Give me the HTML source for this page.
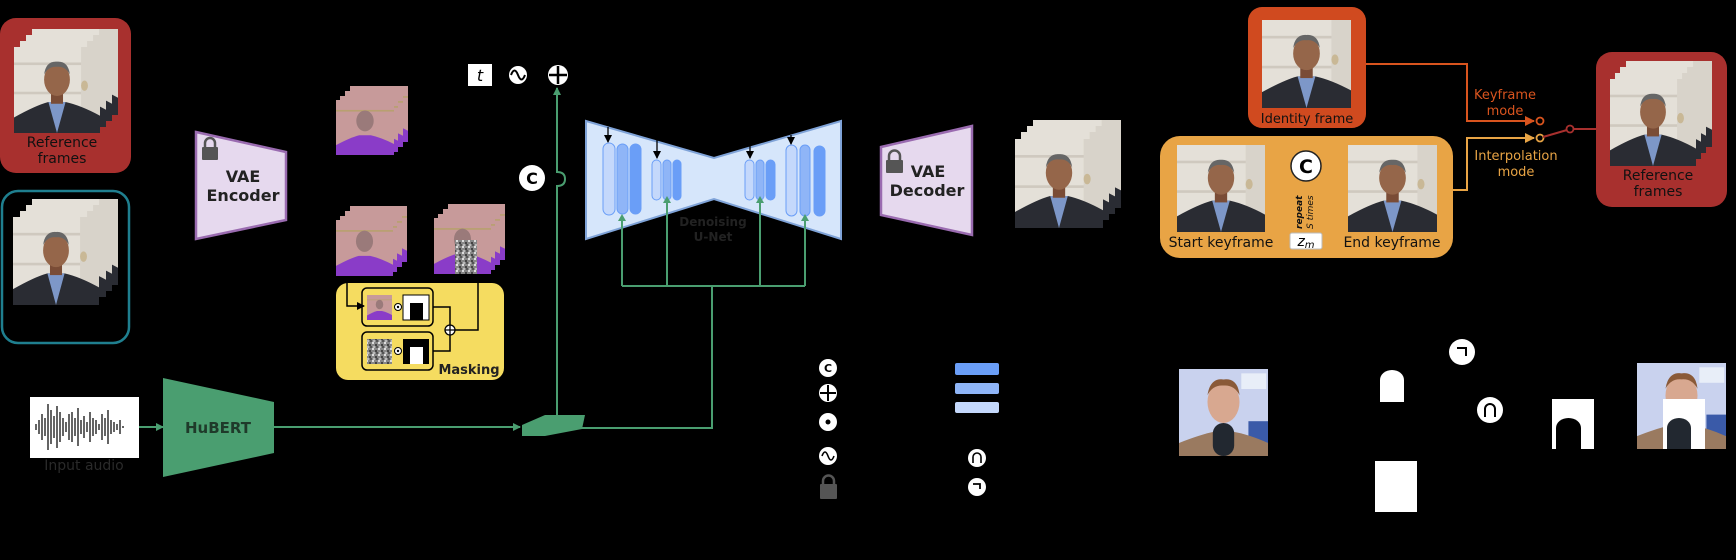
<!DOCTYPE html>
<html><head><meta charset="utf-8"><style>
html,body{margin:0;padding:0;background:#000;}
svg{display:block;}
text{font-family:"DejaVu Sans","Liberation Sans",sans-serif;}
</style></head><body>
<svg width="1736" height="560" viewBox="0 0 1736 560" xmlns="http://www.w3.org/2000/svg">
<defs>
<symbol id="ph" viewBox="0 0 100 100" preserveAspectRatio="none">
<rect width="100" height="100" fill="#e4e0d8"/>
<rect x="0" y="18" width="100" height="3" fill="#cfc9bf"/>
<rect x="0" y="52" width="100" height="3" fill="#cfc9bf"/>
<rect x="78" y="0" width="22" height="100" fill="#d8d3ca"/>
<ellipse cx="82" cy="45" rx="4" ry="6" fill="#c9b896"/>
<path d="M0 100 L0 82 Q25 68 40 64 L60 64 Q78 68 100 80 L100 100Z" fill="#2a2c33"/>
<path d="M40 64 L50 100 L60 64Z" fill="#7d97c8"/>
<rect x="43" y="52" width="14" height="14" fill="#7a4c36"/>
<ellipse cx="50" cy="38" rx="15" ry="19" fill="#95664a"/>
<path d="M35 32 Q37 16 50 17 Q63 16 65 32 Q60 22 50 23 Q40 22 35 32Z" fill="#666"/>
</symbol>
<symbol id="lt" viewBox="0 0 100 100" preserveAspectRatio="none">
<rect width="100" height="100" fill="#c79a9a"/>
<rect x="0" y="18" width="100" height="3" fill="#b8a070"/>
<path d="M0 100 L0 82 Q25 68 40 64 L60 64 Q78 68 100 80 L100 100Z" fill="#8a3cc8"/>
<ellipse cx="50" cy="38" rx="15" ry="19" fill="#9a7a7a"/>
</symbol>
<symbol id="pv" viewBox="0 0 100 100" preserveAspectRatio="none">
<rect width="100" height="100" fill="#c9d2ee"/>
<rect x="70" y="5" width="28" height="18" fill="#e8eef8"/>
<rect x="78" y="60" width="22" height="25" fill="#3a5aa8"/>
<path d="M0 100 L0 85 Q25 75 40 72 L60 72 Q78 75 100 85 L100 100Z" fill="#9a7a60"/>
<ellipse cx="50" cy="38" rx="18" ry="24" fill="#d8a890"/>
<path d="M32 30 Q35 10 50 12 Q66 10 68 30 Q62 18 50 19 Q38 18 32 30Z" fill="#8a5a38"/>
<rect x="38" y="62" width="24" height="38" rx="12" fill="#222830"/>
</symbol>
<pattern id="noise" width="6" height="6" patternUnits="userSpaceOnUse">
<rect width="6" height="6" fill="#888"/><rect width="2" height="2" fill="#ddd"/><rect x="3" y="2" width="2" height="2" fill="#444"/><rect x="1" y="4" width="2" height="2" fill="#bbb"/><rect x="4" y="4" width="2" height="2" fill="#555"/>
</pattern>
<marker id="ag" markerWidth="8" markerHeight="8" refX="7" refY="4" orient="auto" markerUnits="userSpaceOnUse"><path d="M0 0 L8 4 L0 8Z" fill="#4a9e70"/></marker>
<marker id="ab" markerWidth="8" markerHeight="8" refX="7" refY="4" orient="auto" markerUnits="userSpaceOnUse"><path d="M0 0 L8 4 L0 8Z" fill="#000"/></marker>
<marker id="ar" markerWidth="10" markerHeight="10" refX="9" refY="5" orient="auto" markerUnits="userSpaceOnUse"><path d="M0 0 L10 5 L0 10Z" fill="#d9541e"/></marker>
<marker id="ao" markerWidth="10" markerHeight="10" refX="9" refY="5" orient="auto" markerUnits="userSpaceOnUse"><path d="M0 0 L10 5 L0 10Z" fill="#e8a445"/></marker>
</defs>

<rect x="0" y="18" width="131" height="155" rx="16" fill="#a8302e"/>
<use href="#ph" x="32" y="29" width="86" height="86"/>
<use href="#ph" x="26" y="35" width="86" height="86"/>
<use href="#ph" x="20" y="41" width="86" height="86"/>
<use href="#ph" x="14" y="47" width="86" height="86"/>
<text x="62" y="147" font-size="14" text-anchor="middle" fill="#111">Reference</text>
<text x="62" y="163" font-size="14" text-anchor="middle" fill="#111">frames</text>

<rect x="2" y="191" width="127" height="152" rx="16" fill="none" stroke="#1f7f8f" stroke-width="2.5"/>
<use href="#ph" x="32" y="199" width="86" height="86"/>
<use href="#ph" x="26" y="205" width="86" height="86"/>
<use href="#ph" x="20" y="211" width="86" height="86"/>
<use href="#ph" x="13" y="217" width="86" height="88"/>

<path d="M196 132 L286 152 L286 220 L196 239Z" fill="#e6d9ee" stroke="#9a6bb0" stroke-width="2.5"/>
<rect x="202" y="147" width="16" height="13" rx="1" fill="#555"/>
<path d="M205 147 V143 a5 5 0 0 1 10 0 V147" fill="none" stroke="#555" stroke-width="2.5"/>
<text x="243" y="182" font-size="16" font-weight="bold" text-anchor="middle" fill="#222">VAE</text>
<text x="243" y="201" font-size="16" font-weight="bold" text-anchor="middle" fill="#222">Encoder</text>

<use href="#lt" x="350" y="86" width="58" height="56"/>
<use href="#lt" x="345" y="91" width="58" height="56"/>
<use href="#lt" x="340" y="96" width="58" height="56"/>
<use href="#lt" x="336" y="100" width="58" height="55"/>
<use href="#lt" x="350" y="206" width="57" height="56"/>
<use href="#lt" x="345" y="211" width="57" height="56"/>
<use href="#lt" x="340" y="216" width="57" height="56"/>
<use href="#lt" x="336" y="220" width="57" height="56"/>
<use href="#lt" x="448" y="204" width="57" height="56"/>
<use href="#lt" x="443" y="209" width="57" height="56"/>
<use href="#lt" x="438" y="214" width="57" height="56"/>
<use href="#lt" x="434" y="218" width="57" height="56"/>
<rect x="455" y="240" width="22" height="34" fill="url(#noise)"/>

<rect x="336" y="283" width="168" height="97" rx="12" fill="#f5dc60"/>
<path d="M347 276 V306 H364" fill="none" stroke="#000" stroke-width="1.5" marker-end="url(#ab)"/>
<path d="M478 276 V330 H455" fill="none" stroke="#000" stroke-width="1.5"/>
<rect x="362" y="288" width="71" height="38" rx="5" fill="none" stroke="#000" stroke-width="1.5"/>
<rect x="362" y="332" width="71" height="38" rx="5" fill="none" stroke="#000" stroke-width="1.5"/>
<use href="#lt" x="367" y="295" width="25" height="25"/>
<circle cx="398" cy="307" r="3.5" fill="#fff" stroke="#000"/><circle cx="398" cy="307" r="1.2" fill="#000"/>
<rect x="403" y="295" width="26" height="25" fill="#fff" stroke="#000"/>
<rect x="410" y="303" width="13" height="17" fill="#000"/>
<rect x="367" y="339" width="25" height="25" fill="url(#noise)"/>
<circle cx="398" cy="351" r="3.5" fill="#fff" stroke="#000"/><circle cx="398" cy="351" r="1.2" fill="#000"/>
<rect x="403" y="339" width="26" height="25" fill="#000"/>
<rect x="410" y="347" width="13" height="17" fill="#fff"/>
<path d="M433 307 H450 V325 M433 351 H450 V335" fill="none" stroke="#000" stroke-width="1.5"/>
<circle cx="450" cy="330" r="5" fill="#fff" stroke="#000" stroke-width="1.3"/>
<path d="M445 330 H455 M450 325 V335" stroke="#000" stroke-width="1.3"/>
<text x="469" y="374" font-size="13" font-weight="bold" text-anchor="middle" fill="#222">Masking</text>

<rect x="468" y="64" width="24" height="22" fill="#fff"/>
<text x="480" y="81" font-size="16" font-style="italic" font-family="Liberation Serif,serif" text-anchor="middle" fill="#000">t</text>
<circle cx="518" cy="75" r="9" fill="#fff"/>
<path d="M511 75 q3.5 -9 7 0 q3.5 9 7 0" fill="none" stroke="#000" stroke-width="2"/>
<circle cx="558" cy="75" r="10" fill="#fff"/>
<path d="M549 75 H567 M558 66 V84" stroke="#000" stroke-width="2.5"/>

<path d="M557 418 V186 q8 0 8 -7 q0 -7 -8 -7 V88" fill="none" stroke="#4a9e70" stroke-width="2" marker-end="url(#ag)"/>
<circle cx="532" cy="178" r="13" fill="#fff"/>
<text x="532" y="184" font-size="16" font-weight="bold" text-anchor="middle" fill="#000">C</text>

<rect x="30" y="397" width="109" height="61" fill="#fff"/>
<g stroke="#111" stroke-width="1.3">
<path d="M36 424v6M39 420v14M42 414v26M45 418v18M48 404v46M51 410v34M54 416v22M57 406v42M60 412v30M63 418v18M66 422v10M69 414v26M72 412v30M75 418v18M78 408v38M81 420v14M84 416v22M87 422v10M90 412v30M93 418v18M96 420v14M99 424v6M102 414v26M105 418v18M108 410v34M111 420v14M114 422v10M117 424v6M120 420v14M123 426v2"/>
</g>
<text x="84" y="470" font-size="14" text-anchor="middle" fill="#2a2a2a">Input audio</text>
<path d="M139 427 H163" stroke="#4a9e70" stroke-width="2" marker-end="url(#ag)"/>

<path d="M163 378 L274 402 L274 453 L163 477Z" fill="#4a9e70"/>
<text x="218" y="433" font-size="15" font-weight="bold" text-anchor="middle" fill="#1f3a2a">HuBERT</text>
<path d="M274 427 H520" stroke="#4a9e70" stroke-width="2" marker-end="url(#ag)"/>
<path d="M522 425 L545 415 L585 415 L582 429 L545 436 L522 436Z" fill="#4a9e70"/>
<path d="M582 428 H712 V286" fill="none" stroke="#4a9e70" stroke-width="2"/>

<path d="M586 121 L714 158 L841 121 L841 239 L714 199 L586 239Z" fill="#d6e6fb" stroke="#7fa3d8" stroke-width="2"/>
<g stroke="#6a9ef7" stroke-width="1">
<rect x="603" y="143" width="12" height="72" rx="6" fill="#c4d8fb"/>
<rect x="617" y="144" width="11" height="70" rx="5.5" fill="#8fb5f7"/>
<rect x="630" y="144" width="11" height="70" rx="5.5" fill="#6a9ef7"/>
<rect x="652" y="160" width="9" height="40" rx="4.5" fill="#c4d8fb"/>
<rect x="663" y="160" width="8" height="40" rx="4" fill="#8fb5f7"/>
<rect x="673" y="160" width="8" height="40" rx="4" fill="#6a9ef7"/>
<rect x="745" y="160" width="9" height="40" rx="4.5" fill="#c4d8fb"/>
<rect x="756" y="160" width="8" height="40" rx="4" fill="#8fb5f7"/>
<rect x="766" y="160" width="9" height="40" rx="4.5" fill="#6a9ef7"/>
<rect x="786" y="145" width="11" height="71" rx="5.5" fill="#c4d8fb"/>
<rect x="800" y="145" width="10" height="71" rx="5" fill="#8fb5f7"/>
<rect x="814" y="146" width="11" height="70" rx="5.5" fill="#6a9ef7"/>
</g>
<g stroke="#000" stroke-width="1.3">
<path d="M608 127 V142" marker-end="url(#ab)"/>
<path d="M657 140 V158" marker-end="url(#ab)"/>
<path d="M750 146 V158" marker-end="url(#ab)"/>
<path d="M791 135 V144" marker-end="url(#ab)"/>
</g>
<text x="713" y="226" font-size="12" font-weight="bold" text-anchor="middle" fill="#222">Denoising</text>
<text x="713" y="241" font-size="12" font-weight="bold" text-anchor="middle" fill="#222">U-Net</text>
<path d="M622 286 V219 M667 286 V201 M760 286 V201 M805 286 V219 M622 286 H805" fill="none" stroke="#4a9e70" stroke-width="2"/>
<g fill="#4a9e70"><path d="M618 221 L622 214 L626 221Z"/><path d="M663 203 L667 196 L671 203Z"/><path d="M756 203 L760 196 L764 203Z"/><path d="M801 221 L805 214 L809 221Z"/></g>

<path d="M881 147 L972 126 L972 235 L881 215Z" fill="#e6d9ee" stroke="#9a6bb0" stroke-width="2.5"/>
<rect x="886" y="160" width="17" height="13" rx="1" fill="#555"/>
<path d="M889 160 V156 a5.5 5.5 0 0 1 11 0 V160" fill="none" stroke="#555" stroke-width="2.5"/>
<text x="928" y="177" font-size="16" font-weight="bold" text-anchor="middle" fill="#222">VAE</text>
<text x="927" y="196" font-size="16" font-weight="bold" text-anchor="middle" fill="#222">Decoder</text>

<use href="#ph" x="1033" y="120" width="88" height="88"/>
<use href="#ph" x="1027" y="126" width="88" height="88"/>
<use href="#ph" x="1021" y="132" width="88" height="88"/>
<use href="#ph" x="1015" y="139" width="88" height="89"/>

<circle cx="828" cy="368" r="9" fill="#fff"/><text x="828" y="372" font-size="11" font-weight="bold" text-anchor="middle" fill="#000">C</text>
<circle cx="828" cy="393" r="9" fill="#fff"/><path d="M820 393 H836 M828 385 V401" stroke="#000" stroke-width="2"/>
<circle cx="828" cy="422" r="9" fill="#fff"/><circle cx="828" cy="422" r="2.5" fill="#000"/>
<circle cx="828" cy="456" r="9" fill="#fff"/><path d="M822 456 q3 -8 6 0 q3 8 6 0" fill="none" stroke="#000" stroke-width="1.6"/>
<rect x="820" y="484" width="17" height="15" rx="1" fill="#555"/>
<path d="M823 484 V481 a5.5 5.5 0 0 1 11 0 V484" fill="none" stroke="#555" stroke-width="2.5"/>
<rect x="955" y="363" width="44" height="12" rx="2" fill="#6a9ef7"/>
<rect x="955" y="383" width="44" height="11" rx="2" fill="#8fb5f7"/>
<rect x="955" y="402" width="44" height="11" rx="2" fill="#c4d8fb"/>
<circle cx="977" cy="458" r="9" fill="#fff"/><path d="M973 463 V457 a4 4 0 0 1 8 0 V463" fill="none" stroke="#000" stroke-width="1.6"/>
<circle cx="977" cy="487" r="9" fill="#fff"/><path d="M973 484 H980 V489" fill="none" stroke="#000" stroke-width="1.8"/>

<rect x="1248" y="7" width="118" height="121" rx="14" fill="#d04a1f"/>
<use href="#ph" x="1262" y="20" width="89" height="88"/>
<text x="1307" y="123" font-size="13" text-anchor="middle" fill="#111">Identity frame</text>

<rect x="1160" y="136" width="293" height="122" rx="20" fill="#e8a445"/>
<use href="#ph" x="1177" y="145" width="88" height="87"/>
<use href="#ph" x="1348" y="145" width="89" height="87"/>
<text x="1221" y="247" font-size="14" text-anchor="middle" fill="#111">Start keyframe</text>
<text x="1392" y="247" font-size="14" text-anchor="middle" fill="#111">End keyframe</text>
<circle cx="1306" cy="166" r="15" fill="#fff" stroke="#222" stroke-width="1.5"/>
<text x="1306" y="173" font-size="19" font-weight="bold" text-anchor="middle" fill="#000">C</text>
<text transform="translate(1302,229) rotate(-90)" font-size="9" font-style="italic" font-weight="bold" fill="#111">repeat</text>
<text transform="translate(1313,229) rotate(-90)" font-size="9" font-style="italic" fill="#111">S times</text>
<rect x="1290" y="233" width="32" height="16" rx="2" fill="#fff" stroke="#bbb"/>
<text x="1306" y="246" font-size="14" font-style="italic" font-family="Liberation Serif,serif" text-anchor="middle" fill="#000">z<tspan font-size="10" dy="2">m</tspan></text>

<path d="M1366 64 H1467 V121 H1534" fill="none" stroke="#d9541e" stroke-width="2" marker-end="url(#ar)"/>
<circle cx="1540" cy="121" r="3.5" fill="none" stroke="#d9541e" stroke-width="1.8"/>
<path d="M1453 190 H1467 V138 H1534" fill="none" stroke="#e8a445" stroke-width="2" marker-end="url(#ao)"/>
<circle cx="1540" cy="138" r="3.5" fill="none" stroke="#e8a445" stroke-width="1.8"/>
<path d="M1543 137 L1567 130 M1574 129 H1597" stroke="#a8302e" stroke-width="2"/>
<circle cx="1570" cy="129" r="3.5" fill="none" stroke="#a8302e" stroke-width="1.8"/>
<text x="1505" y="99" font-size="13" text-anchor="middle" fill="#d9541e">Keyframe</text>
<text x="1505" y="115" font-size="13" text-anchor="middle" fill="#d9541e">mode</text>
<text x="1516" y="160" font-size="13" text-anchor="middle" fill="#e8a445">Interpolation</text>
<text x="1516" y="176" font-size="13" text-anchor="middle" fill="#e8a445">mode</text>

<rect x="1596" y="52" width="131" height="155" rx="16" fill="#a8302e"/>
<use href="#ph" x="1626" y="61" width="86" height="86"/>
<use href="#ph" x="1620" y="67" width="86" height="86"/>
<use href="#ph" x="1615" y="73" width="86" height="86"/>
<use href="#ph" x="1610" y="79" width="86" height="87"/>
<text x="1658" y="180" font-size="14" text-anchor="middle" fill="#111">Reference</text>
<text x="1658" y="196" font-size="14" text-anchor="middle" fill="#111">frames</text>

<use href="#pv" x="1179" y="369" width="89" height="87"/>
<path d="M1380 402 V380 a12 10 0 0 1 24 0 V402Z" fill="#fff"/>
<circle cx="1462" cy="352" r="13" fill="#fff"/><path d="M1457 348 H1466 V356" fill="none" stroke="#000" stroke-width="2"/>
<circle cx="1490" cy="410" r="13" fill="#fff"/><path d="M1485 417 V409 a5 5 0 0 1 10 0 V417" fill="none" stroke="#000" stroke-width="2"/>
<rect x="1552" y="399" width="42" height="50" fill="#fff"/>
<path d="M1556 449 V428 a12.5 10 0 0 1 25 0 V449Z" fill="#000"/>
<use href="#pv" x="1637" y="363" width="89" height="86"/>
<rect x="1663" y="399" width="42" height="50" fill="#fff"/>
<path d="M1667 449 V428 a12 10 0 0 1 24 0 V449Z" fill="#222830"/>
<rect x="1375" y="461" width="42" height="51" fill="#fff"/>
</svg>
</body></html>
